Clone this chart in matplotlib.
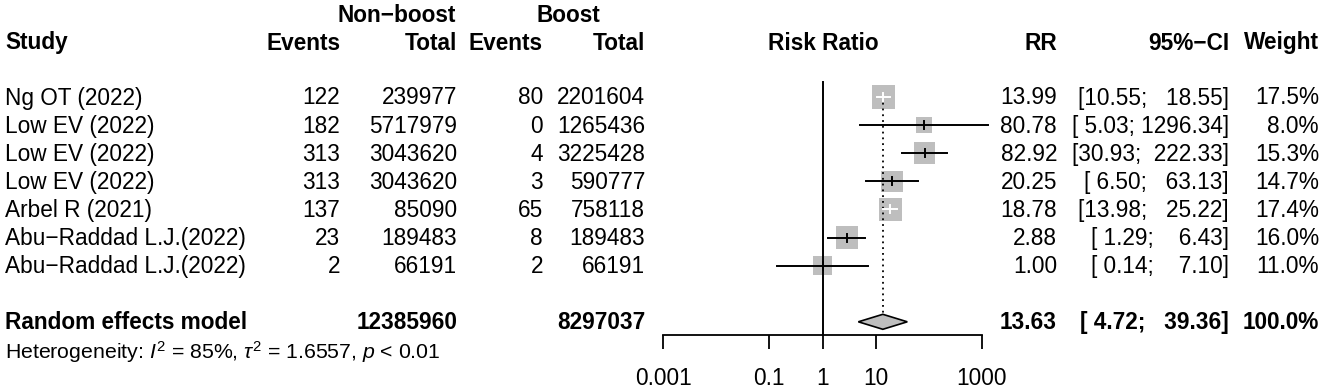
import numpy as np
import matplotlib
matplotlib.use("Agg")
from matplotlib import pyplot as plt
from matplotlib.patches import Rectangle, Polygon

plt.rcParams['font.family'] = ['Liberation Sans', 'DejaVu Sans']
plt.rcParams['mathtext.fontset'] = 'custom'
plt.rcParams['mathtext.rm'] = 'Liberation Sans'
plt.rcParams['mathtext.it'] = 'Liberation Sans:italic'

# study data
studies = ['Ng OT (2022)', 'Low EV (2022)', 'Low EV (2022)', 'Low EV (2022)',
           'Arbel R (2021)', 'Abu\u2212Raddad L.J.(2022)', 'Abu\u2212Raddad L.J.(2022)']
events_nb = [122, 182, 313, 313, 137, 23, 2]
total_nb = [239977, 5717979, 3043620, 3043620, 85090, 189483, 66191]
events_b = [80, 0, 4, 3, 65, 8, 2]
total_b = [2201604, 1265436, 3225428, 590777, 758118, 189483, 66191]
rr = [13.99, 80.78, 82.92, 20.25, 18.78, 2.88, 1.00]
lower = [10.55, 5.03, 30.93, 6.50, 13.98, 1.29, 0.14]
upper = [18.55, 1296.34, 222.33, 63.13, 25.22, 6.43, 7.10]
weight = [17.5, 8.0, 15.3, 14.7, 17.4, 16.0, 11.0]

# random effects summary
re_rr, re_lo, re_hi = 13.63, 4.72, 39.36
re_total_nb = 12385960
re_total_b = 8297037

W, H = 1325, 390
fig = plt.figure(figsize=(W / 100, H / 100), dpi=100)

FS = 16.3

def txt(x, y, s, ha='left', bold=False, size=FS):
    # y is the row centre in pixels from the top
    fig.text(x / W, 1 - (y - 1.5) / H, s, ha=ha, va='center_baseline',
             fontsize=size, fontweight='bold' if bold else 'normal')

# row positions in pixels
row0, step = 97.0, 28.1
rows = [row0 + step * i for i in range(len(studies))]
re_row = row0 + step * 8

# headers
txt(397, 14, 'Non\u2212boost', ha='center', bold=True)
txt(568, 14, 'Boost', ha='center', bold=True)
txt(5, 42, 'Study', bold=True)
txt(340, 42, 'Events', ha='right', bold=True)
txt(457, 42, 'Total', ha='right', bold=True)
txt(543, 42, 'Events', ha='right', bold=True)
txt(645, 42, 'Total', ha='right', bold=True)
txt(823, 42, 'Risk Ratio', ha='center', bold=True)
txt(1057, 42, 'RR', ha='right', bold=True)
txt(1229, 42, '95%\u2212CI', ha='right', bold=True)
txt(1319, 42, 'Weight', ha='right', bold=True)

for i, y in enumerate(rows):
    txt(5, y, studies[i])
    txt(340, y, str(events_nb[i]), ha='right')
    txt(457, y, str(total_nb[i]), ha='right')
    txt(543, y, str(events_b[i]), ha='right')
    txt(645, y, str(total_b[i]), ha='right')
    txt(1057, y, f'{rr[i]:.2f}', ha='right')
    txt(1229, y, f'[{lower[i]:5.2f}; {upper[i]:7.2f}]', ha='right')
    txt(1319, y, f'{weight[i]:.1f}%', ha='right')

txt(5, re_row, 'Random effects model', bold=True)
txt(457, re_row, str(re_total_nb), ha='right', bold=True)
txt(645, re_row, str(re_total_b), ha='right', bold=True)
txt(1057, re_row, f'{re_rr:.2f}', ha='right', bold=True)
txt(1229, re_row, f'[{re_lo:5.2f}; {re_hi:7.2f}]', ha='right', bold=True)
txt(1319, re_row, '100.0%', ha='right', bold=True)
txt(5, 350, r'Heterogeneity: $I^2$ = 85%, $\tau^2$ = 1.6557, $p$ < 0.01', size=15.3)

# forest panel
x0, x1, ybot = 663, 982, 335
ax = fig.add_axes([x0 / W, 1 - ybot / H, (x1 - x0) / W, ybot / H])
ax.set_xscale('log')
ax.set_xlim(0.001, 1000)
# y in pixel rows, inverted
ax.set_ylim(ybot, 0)
for s in ['top', 'left', 'right']:
    ax.spines[s].set_visible(False)
ax.spines['bottom'].set_linewidth(1.3)
ax.set_yticks([])
ticks = [0.001, 0.1, 1, 10, 1000]
ax.set_xticks(ticks)
ax.set_xticklabels(['0.001', '0.1', '1', '10', '1000'])
ax.xaxis.set_minor_locator(matplotlib.ticker.NullLocator())
ax.tick_params(axis='x', length=10, width=1.3, pad=13, labelsize=FS)

px_per_dec = (x1 - x0) / 6.0
ax.plot([1, 1], [82, ybot], color='black', lw=1.4, clip_on=False)
ax.plot([re_rr, re_rr], [rows[0], re_row - 8], color='black', lw=1.3,
        ls=(0, (1, 2.2)), clip_on=False)

gray = '#BEBEBE'
for i, y in enumerate(rows):
    side = 23.5 * np.sqrt(weight[i] / max(weight))
    hw = side / 2 / px_per_dec
    ax.add_patch(Rectangle((rr[i] * 10 ** -hw, y - side / 2),
                           rr[i] * 10 ** hw - rr[i] * 10 ** -hw, side,
                           facecolor=gray, edgecolor='none', clip_on=False))
    inside = lower[i] >= rr[i] * 10 ** -hw and upper[i] <= rr[i] * 10 ** hw
    c = 'white' if inside else 'black'
    ax.plot([lower[i], upper[i]], [y, y], color=c, lw=1.4, clip_on=False)
    ax.plot([rr[i], rr[i]], [y - 4, y + 4], color=c, lw=1.4, clip_on=False)

# diamond
ax.add_patch(Polygon([(re_lo, re_row), (re_rr, re_row - 7.5),
                      (re_hi, re_row), (re_rr, re_row + 7.5)],
                     closed=True, facecolor=gray, edgecolor='black', lw=1.2,
                     clip_on=False))

fig.savefig('out.png', dpi=100)
